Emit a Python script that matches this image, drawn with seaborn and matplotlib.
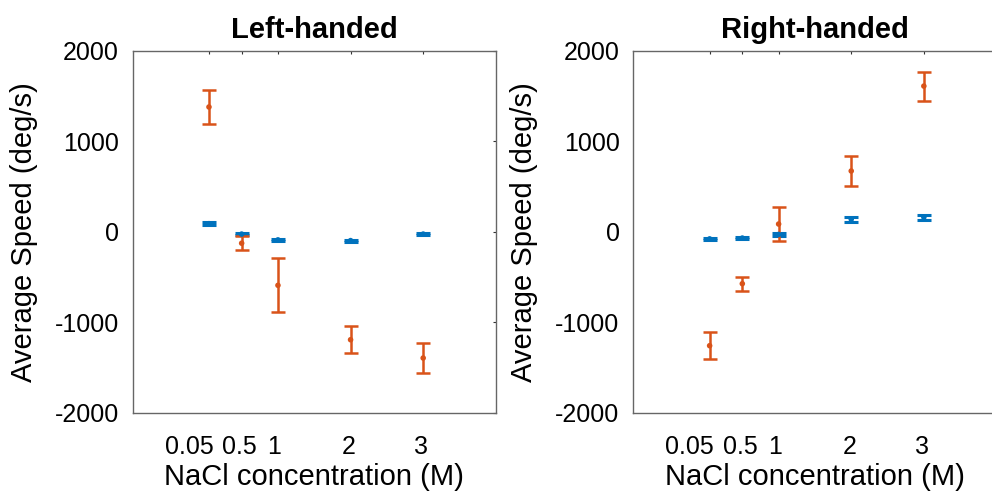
import numpy as np
import pandas as pd
import matplotlib
matplotlib.use("Agg")
import matplotlib.pyplot as plt
import matplotlib.transforms as mtransforms
import seaborn as sns

# ---- data ----
conc = [0.05, 0.5, 1, 2, 3]
conc_labels = ["0.05", "0.5", "1", "2", "3"]
panels = ["Left-handed", "Right-handed"]

left_blue_mean = [88, -27, -91, -99, -27]
left_blue_err = [19, 10, 15, 12, 10]
left_orange_mean = [1377, -128, -593, -1194, -1396]
left_orange_err = [192, 77, 298, 152, 165]

right_blue_mean = [-80, -71, -31, 137, 159]
right_blue_err = [8, 8, 15, 30, 25]
right_orange_mean = [-1260, -575, 84, 670, 1608]
right_orange_err = [148, 79, 192, 162, 160]

yticks = [-2000, -1000, 0, 1000, 2000]

BLUE = "#0072BD"
ORANGE = "#D95319"

sns.set_theme(style="white")
plt.rcParams["font.family"] = ["Liberation Sans", "DejaVu Sans"]

fig = plt.figure(figsize=(9.92, 4.94), dpi=100)
axes = [fig.add_axes([0.1338, 0.1646, 0.366, 0.733]),
        fig.add_axes([0.6385, 0.1646, 0.366, 0.733])]

series = [
    (left_blue_mean, left_blue_err, left_orange_mean, left_orange_err),
    (right_blue_mean, right_blue_err, right_orange_mean, right_orange_err),
]

# horizontal shifts (pixels) of the x tick labels as seen in the reference
label_shift_px = [-20, -2, -4, -2, -2]

for ax, title, (bm, be, om, oe) in zip(axes, panels, series):
    df = pd.DataFrame({
        "conc": conc * 2,
        "speed": bm + om,
        "err": be + oe,
        "group": ["blue"] * len(conc) + ["orange"] * len(conc),
    })
    for grp, col, lw in [("blue", BLUE, 2.2), ("orange", ORANGE, 1.8)]:
        sub = df[df["group"] == grp]
        ax.errorbar(sub["conc"], sub["speed"], yerr=sub["err"], fmt="none",
                    ecolor=col, elinewidth=lw, capsize=5, capthick=lw, zorder=2)
        sns.scatterplot(data=sub, x="conc", y="speed", color=col, s=16,
                        edgecolor="none", ax=ax, zorder=3, legend=False)

    ax.set_xlim(-1, 4)
    ax.set_ylim(-2000, 2000)
    ax.set_xticks(conc)
    ax.set_xticklabels(conc_labels)
    ax.set_yticks(yticks)
    ax.set_yticklabels([str(v) for v in yticks])
    ax.tick_params(axis="both", direction="in", length=2.2, width=0.8,
                   color="#333333", labelsize=18, top=True, right=True,
                   labelcolor="black")
    ax.tick_params(axis="x", pad=16)
    ax.tick_params(axis="y", pad=10)
    for lab, dx in zip(ax.get_xticklabels(), label_shift_px):
        lab.set_transform(lab.get_transform() +
                          mtransforms.ScaledTranslation(dx / 100, 0, fig.dpi_scale_trans))
    for sp in ax.spines.values():
        sp.set_color("#666666")
        sp.set_linewidth(1.0)
    ax.set_xlabel("NaCl concentration (M)", fontsize=21, color="black")
    ax.xaxis.set_label_coords(0.5, -0.138)
    ax.set_ylabel("Average Speed (deg/s)", fontsize=21, color="black")
    ax.yaxis.set_label_coords(-0.262, 0.5)
    ax.set_title(title, fontsize=21, fontweight="bold", pad=9, color="black")

fig.savefig("out.png", dpi=100, facecolor="white")
